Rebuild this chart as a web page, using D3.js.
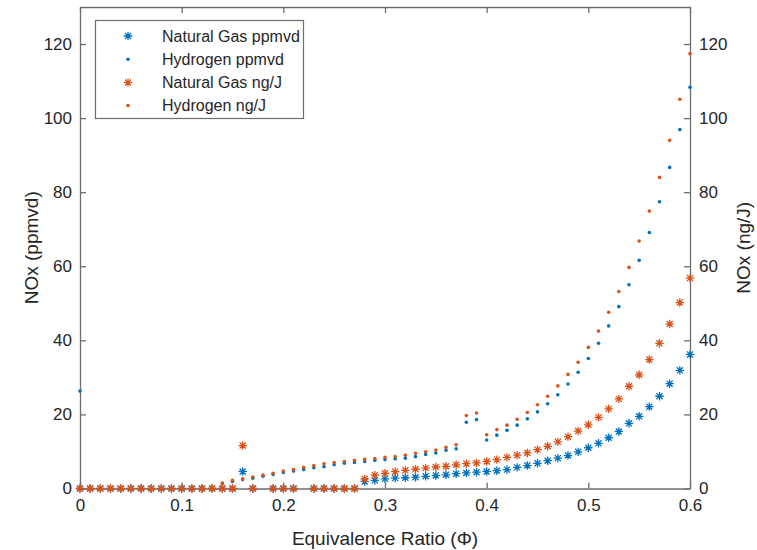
<!DOCTYPE html>
<html><head><meta charset="utf-8">
<script src="https://cdn.jsdelivr.net/npm/d3@7"></script>
<style>
body{margin:0;background:#fff;}
text{font-family:"Liberation Sans",Arial,Helvetica,sans-serif;fill:#262626;}
</style></head>
<body><svg id="chart" width="757" height="550"></svg>
<script>
const phi = [0.00,0.01,0.02,0.03,0.04,0.05,0.06,0.07,0.08,0.09,0.10,0.11,0.12,0.13,0.14,0.15,0.16,0.17,0.18,0.19,0.20,
0.21,0.22,0.23,0.24,0.25,0.26,0.27,0.28,0.29,0.30,0.31,0.32,0.33,0.34,0.35,0.36,0.37,0.38,0.39,0.40,
0.41,0.42,0.43,0.44,0.45,0.46,0.47,0.48,0.49,0.50,0.51,0.52,0.53,0.54,0.55,0.56,0.57,0.58,0.59,0.60];

const ngPpmvd = [0,0,0,0,0,0,0,0,0,0,0,0,0,0,0,0,4.6,0,null,0,0,
0,null,0,0,0,0,0,1.9,2.2,2.6,2.8,2.9,3.05,3.3,3.5,3.7,4.0,4.2,4.4,4.6,
4.8,5.1,5.7,6.2,6.8,7.5,8.2,8.9,9.9,11.0,12.2,13.7,15.4,17.6,19.5,22.1,24.9,28.3,31.9,36.2];

const h2Ppmvd = [26.3,0,0,0,0,0,0,0,0,0,0,0,0,0,1.3,1.9,2.4,2.8,3.3,3.8,4.3,
4.7,5.1,5.6,5.9,6.4,6.8,7.0,7.3,7.6,7.8,8.0,8.2,8.6,9.2,9.6,10.3,10.7,17.9,18.6,13.1,
14.4,15.7,17.1,18.8,20.7,22.9,25.3,28.2,31.4,35.1,39.2,43.9,49.1,55.0,61.6,69.1,77.4,86.7,96.9,108.3];

const ngNgJ = [0,0,0,0,0,0,0,0,0,0,0,0,0,0,0,0,11.6,0,null,0,0,
0,null,0,0,0,0,0,2.6,3.6,4.1,4.55,4.9,5.2,5.5,5.8,6.0,6.4,6.7,6.9,7.3,
7.8,8.4,9.0,9.6,10.5,11.4,12.6,14.0,15.5,17.2,19.2,21.5,24.2,27.6,30.7,34.8,39.2,44.4,50.2,56.8];

const h2NgJ = [0,0,0,0,0,0,0,0,0,0,0,0,0,0,1.5,2.2,2.6,3.1,3.6,4.1,4.7,
5.1,5.7,6.2,6.7,7.0,7.3,7.6,7.9,8.1,8.4,8.65,9.0,9.5,9.9,10.4,11.1,11.8,19.7,20.4,14.5,
15.9,17.1,18.7,20.5,22.6,24.9,27.7,30.8,34.1,38.1,42.5,47.6,53.2,59.7,66.8,74.9,84.0,94.0,105.1,117.4];

const xTicks = [0,0.1,0.2,0.3,0.4,0.5,0.6];
const yTicks = [0,20,40,60,80,100,120];
const seriesNames = ["Natural Gas ppmvd","Hydrogen ppmvd","Natural Gas ng/J","Hydrogen ng/J"];

const BLUE = "#0072BD", ORANGE = "#D95319", AX = "#6e6e6e";
const L = 80, R = 690, T = 7, B = 488.5;

const svg = d3.select("#chart");
const x = d3.scaleLinear().domain([0,0.6]).range([L,R]);
const yL = d3.scaleLinear().domain([0,130]).range([B,T]);
const yR = d3.scaleLinear().domain([0,130]).range([B,T]);

// axes
const fmtX = d => d===0 ? "0" : d3.format(".1f")(d);
const gB = svg.append("g").attr("transform",`translate(0,${B})`)
  .call(d3.axisBottom(x).tickValues(xTicks).tickFormat(fmtX).tickSizeInner(-6).tickSizeOuter(0).tickPadding(10));
const gT = svg.append("g").attr("transform",`translate(0,${T})`)
  .call(d3.axisTop(x).tickValues(xTicks).tickFormat("").tickSizeInner(-6).tickSizeOuter(0));
const gL = svg.append("g").attr("transform",`translate(${L},0)`)
  .call(d3.axisLeft(yL).tickValues(yTicks).tickSizeInner(-6).tickSizeOuter(0).tickPadding(8));
const gR = svg.append("g").attr("transform",`translate(${R},0)`)
  .call(d3.axisRight(yR).tickValues(yTicks).tickSizeInner(-6).tickSizeOuter(0).tickPadding(9));
[gB,gT,gL,gR].forEach(g=>{
  g.select(".domain").attr("stroke",AX).attr("stroke-width",1.3);
  g.selectAll(".tick line").attr("stroke",AX).attr("stroke-width",1.3);
  g.selectAll(".tick text").style("font-size","17px").attr("fill","#262626")
   .style("font-family","'Liberation Sans',Arial,sans-serif");
});

// axis labels
svg.append("text").attr("x",(L+R)/2).attr("y",545).attr("text-anchor","middle")
  .style("font-size","19px").text("Equivalence Ratio (Φ)");
svg.append("text").attr("transform",`translate(38,${(T+B)/2}) rotate(-90)`).attr("text-anchor","middle")
  .style("font-size","19px").text("NOx (ppmvd)");
svg.append("text").attr("transform",`translate(750,${(T+B)/2}) rotate(-90)`).attr("text-anchor","middle")
  .style("font-size","19px").text("NOx (ng/J)");

// markers
function star(g, cx, cy, color, r){
  const d = r*0.72;
  g.append("path")
   .attr("d",`M${cx-r},${cy}L${cx+r},${cy}M${cx},${cy-r}L${cx},${cy+r}M${cx-d},${cy-d}L${cx+d},${cy+d}M${cx-d},${cy+d}L${cx+d},${cy-d}`)
   .attr("stroke",color).attr("stroke-width",1.3).attr("fill","none");
}
function dot(g, cx, cy, color){
  g.append("circle").attr("cx",cx).attr("cy",cy).attr("r",1.8).attr("fill",color);
}
const plot = svg.append("g");
phi.forEach((p,i)=>{ if(ngPpmvd[i]!=null) star(plot, x(p), yL(ngPpmvd[i]), BLUE, 4.2); });
phi.forEach((p,i)=>{ if(h2Ppmvd[i]!=null) dot(plot, x(p), yL(h2Ppmvd[i]), BLUE); });
phi.forEach((p,i)=>{ if(ngNgJ[i]!=null) star(plot, x(p), yR(ngNgJ[i]), ORANGE, 4.2); });
phi.forEach((p,i)=>{ if(h2NgJ[i]!=null) dot(plot, x(p), yR(h2NgJ[i]), ORANGE); });

// legend
const lg = svg.append("g");
lg.append("rect").attr("x",95.5).attr("y",20.5).attr("width",208).attr("height",98)
  .attr("fill","#fff").attr("stroke",AX).attr("stroke-width",1.2);
const kinds = ["star","dot","star","dot"], cols = [BLUE,BLUE,ORANGE,ORANGE];
seriesNames.forEach((n,i)=>{
  const cy = 36 + i*23.2;
  if(kinds[i]==="star") star(lg,128,cy,cols[i],4.2); else dot(lg,128,cy,cols[i]);
  lg.append("text").attr("x",162).attr("y",cy+5.5).style("font-size","16px").text(n);
});
</script></body></html>
